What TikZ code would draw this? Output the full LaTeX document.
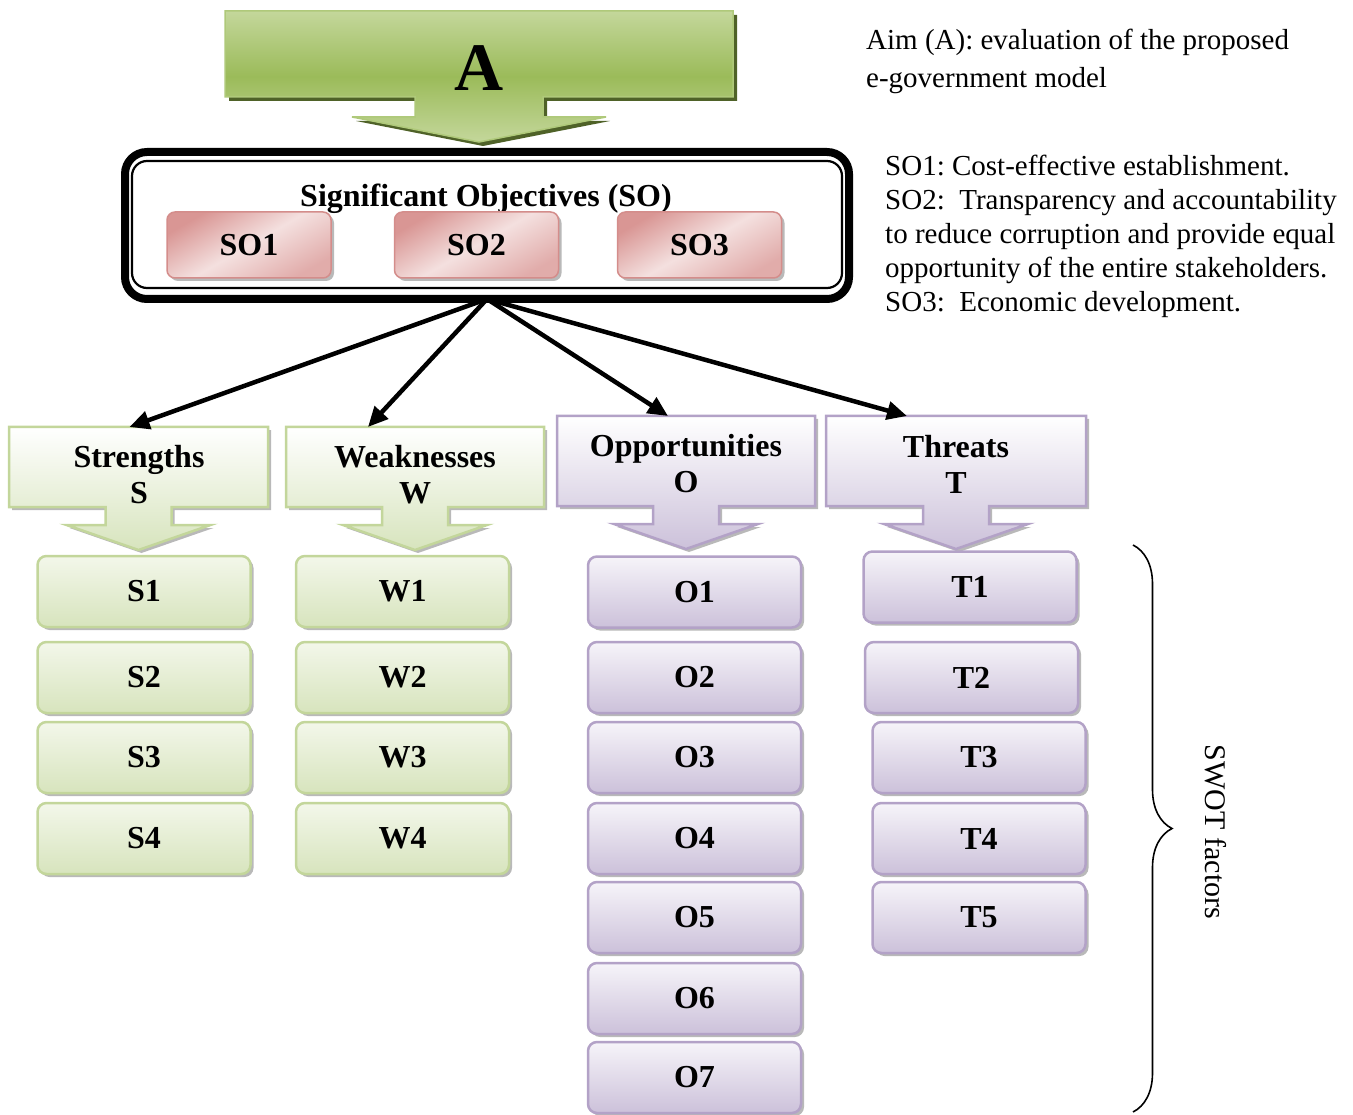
\documentclass[tikz,border=0pt]{standalone}
\usepackage{fontspec}
\setmainfont{Liberation Serif}
\usepackage{tikz}
\usetikzlibrary{calc, arrows.meta, positioning, shadows, decorations.pathreplacing}
\frenchspacing

\definecolor{aimgreen}{HTML}{9BBB59}
\definecolor{aimlight}{HTML}{C4D79B}
\definecolor{aimedge}{HTML}{AFC97A}
\definecolor{aimshadow}{HTML}{4F6228}
\definecolor{sgreenedge}{HTML}{C3D69B}
\definecolor{sgreentop}{HTML}{F3F7EA}
\definecolor{sgreenbot}{HTML}{D7E4BD}
\definecolor{opurpleedge}{HTML}{B3A2C7}
\definecolor{opurpletop}{HTML}{F6F4F9}
\definecolor{opurplebot}{HTML}{CCC1DA}
\definecolor{sodark}{HTML}{D99694}
\definecolor{solight}{HTML}{F4E0DF}
\definecolor{soedge}{HTML}{D48D8B}

\begin{document}
\begin{tikzpicture}[x=1pt, y=-1pt]

    % Styles
    \tikzset{
        boldtext/.style={font=\fontsize{32}{36}\selectfont\bfseries, align=center, inner sep=0},
        notetext/.style={font=\fontsize{29}{34}\selectfont, align=left, inner sep=0},
        grayshadow/.style={drop shadow={shadow xshift=3pt, shadow yshift=-3pt, fill=gray!55, opacity=1}},
        frame/.style={rectangle, inner sep=0, outer sep=0},
        greencall/.style={draw=sgreenedge, line width=2.5pt, top color=white, bottom color=sgreenbot, grayshadow},
        purplecall/.style={draw=opurpleedge, line width=2.5pt, top color=white, bottom color=opurplebot, grayshadow},
        itembox/.style={rectangle, rounded corners=9pt, line width=2.5pt, minimum width=213pt, minimum height=71pt, inner sep=0, grayshadow, font=\fontsize{32}{36}\selectfont\bfseries},
        greenitem/.style={itembox, draw=sgreenedge, top color=sgreentop, bottom color=sgreenbot},
        purpleitem/.style={itembox, draw=opurpleedge, top color=opurpletop, bottom color=opurplebot},
        sobox/.style={rectangle, rounded corners=8pt, draw=soedge, line width=1.5pt, minimum width=164pt, minimum height=66pt, inner sep=0, grayshadow,
            shading=axis, top color=sodark, bottom color=sodark!70!solight, middle color=solight, shading angle=30, font=\fontsize{32}{36}\selectfont\bfseries},
        link/.style={-{Triangle[length=20pt, width=18pt]}, line width=4.5pt}
    }

    \useasboundingbox (0,0) rectangle (1353,1115);

    % Aim block arrow
    \node[frame, minimum width=508pt, minimum height=86pt] (aim) at (479,54) {};
    \draw[draw=aimedge, line width=1.5pt, top color=aimlight, bottom color=aimlight, middle color=aimgreen,
          drop shadow={shadow xshift=4pt, shadow yshift=-4pt, fill=aimshadow, opacity=1}]
        (aim.north west) -- (aim.north east) -- (aim.south east)
        -- ($(aim.south)+(64,0)$) -- ($(aim.south)+(64,20)$) -- ($(aim.south)+(127,20)$)
        -- ($(aim.south)+(0,45)$)
        -- ($(aim.south)+(-127,20)$) -- ($(aim.south)+(-64,20)$) -- ($(aim.south)+(-64,0)$)
        -- (aim.south west) -- cycle;
    \node[font=\fontsize{68}{72}\selectfont\bfseries, inner sep=0] (aimA) at (479,68) {A};

    % Significant objectives
    \node[frame, draw, fill=white, line width=8pt, rounded corners=22pt, minimum width=724pt, minimum height=147pt] (so) at (487,225.5) {};
    \draw[line width=2.2pt, rounded corners=15pt] ($(so.north west)+(7,9)$) rectangle ($(so.south east)+(-7,-11)$);
    \node[boldtext] (sotitle) at (486,199) {Significant Objectives (SO)};
    \node[sobox] (so1) at (249,245) {SO1};
    \node[sobox] (so2) at (476.5,245) {SO2};
    \node[sobox] (so3) at (699.5,245) {SO3};

    % Notes
    \node[notetext, font=\fontsize{29}{38}\selectfont, anchor=north west] (aimnote) at (866,28.5)
        {Aim (A): evaluation of the proposed\\e-government model};
    \node[notetext, anchor=north west] (sonote) at (885,155)
        {SO1: Cost-effective establishment.\\SO2:~ Transparency and accountability\\to reduce corruption and provide equal\\opportunity of the entire stakeholders.\\SO3:~ Economic development.};

    % SWOT headers
    \node[frame, minimum width=259pt, minimum height=80pt] (hS) at (138.5,467) {};
    \node[frame, minimum width=258pt, minimum height=80pt] (hW) at (415,467) {};
    \node[frame, minimum width=258pt, minimum height=90pt] (hO) at (686,461) {};
    \node[frame, minimum width=260pt, minimum height=90pt] (hT) at (956,461) {};
    \foreach \h/\sty in {hS/greencall, hW/greencall, hO/purplecall, hT/purplecall} {
        \draw[\sty] (\h.north west) -- (\h.north east) -- (\h.south east)
            -- ($(\h.south)+(33,0)$) -- ($(\h.south)+(33,18)$) -- ($(\h.south)+(72,18)$)
            -- ($(\h.south)+(0,43)$)
            -- ($(\h.south)+(-72,18)$) -- ($(\h.south)+(-33,18)$) -- ($(\h.south)+(-33,0)$)
            -- (\h.south west) -- cycle;
    }
    \node[boldtext] (tS) at (139,475) {Strengths\\S};
    \node[boldtext] (tW) at (415,475) {Weaknesses\\W};
    \node[boldtext] (tO) at (686,464) {Opportunities\\O};
    \node[boldtext] (tT) at (956,464) {Threats\\T};

    % SWOT factors
    \foreach \i/\yy in {1/591.5, 2/677.5, 3/757.5, 4/838.5} {
        \node[greenitem] (s\i) at (144,\yy) {S\i};
        \node[greenitem] (w\i) at (402.5,\yy) {W\i};
    }
    \foreach \i/\yy in {1/592, 2/677.5, 3/757.5, 4/838.5, 5/917.5, 6/998.5, 7/1077.5} {
        \node[purpleitem] (o\i) at (694.5,\yy) {O\i};
    }
    \foreach \i/\xx/\yy in {1/970/587, 2/971.5/677.5, 3/979/757.5, 4/979/838.5, 5/979/917.5} {
        \node[purpleitem] (t\i) at (\xx,\yy) {T\i};
    }

    % Arrows
    \foreach \h/\dx in {hS/-9, hW/-47, hO/-18, hT/-49} {
        \draw[link] (so.south) -- ([xshift=\dx pt]\h.north);
    }

    % Brace
    \coordinate (bracetop) at (1133,545);
    \coordinate (bracebot) at (1133,1112);
    \draw[line width=1.6pt, decorate, decoration={brace, amplitude=39pt}] (bracetop) -- (bracebot);
    \node[font=\fontsize{30}{34}\selectfont, rotate=-90, inner sep=0] (swot) at (1216,832) {SWOT factors};

\end{tikzpicture}
\end{document}
